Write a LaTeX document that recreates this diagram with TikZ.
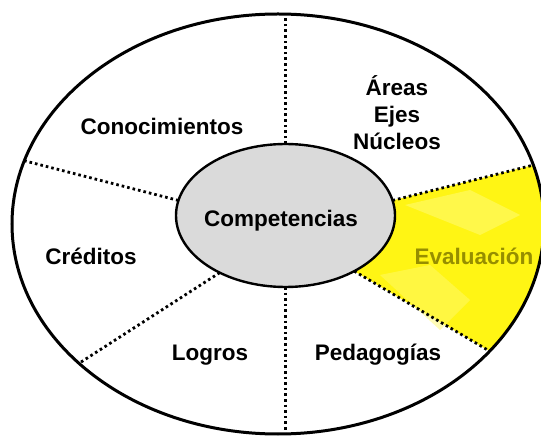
\documentclass[tikz,border=0pt]{standalone}
\usepackage{fontspec}
\setmainfont{Liberation Sans}
\usetikzlibrary{shapes.geometric,calc,backgrounds}
\definecolor{coregray}{RGB}{218,218,218}
\definecolor{hl}{RGB}{255,245,20}
\definecolor{hlsoft}{RGB}{255,250,110}
\definecolor{evaltext}{RGB}{150,142,0}
\begin{document}
\begin{tikzpicture}[x=1pt,y=-1pt,
  lbl/.style={font=\fontsize{22.5}{26}\selectfont\bfseries, anchor=base, inner sep=0pt},
  divider/.style={line width=2.8pt, dash pattern=on 2.6pt off 3.0pt},
  ring/.style={ellipse, draw, line width=3pt, inner sep=0pt, outer sep=0pt},
  core/.style={ellipse, draw, line width=2.4pt, fill=coregray, inner sep=0pt, outer sep=0pt}]
\useasboundingbox (0,0) rectangle (541,438);
\node[ring, minimum width=532pt, minimum height=420pt] (outer) at (278,224) {};
\node[core, minimum width=219pt, minimum height=143pt] (comp) at (285.5,215.5) {};
\begin{scope}[on background layer]
  \begin{scope}
    \clip (outer.center) ellipse [x radius=266pt, y radius=210pt];
    \fill[hl] (comp.8.2) -- ($(comp.8.2)!2.5!(outer.13)$) -- ($(comp.321.6)!2.5!(outer.329.3)$) -- (comp.321.6) -- cycle;
    \fill[hlsoft, opacity=0.6] (405,205) -- (470,190) -- (520,215) -- (480,235) -- cycle;
    \fill[hlsoft, opacity=0.5] (380,275) -- (430,265) -- (470,300) -- (440,330) -- cycle;
  \end{scope}
  \draw[divider] (comp.north) -- (comp.north |- outer.north);
  \draw[divider] (comp.south) -- (comp.south |- outer.south);
  \draw[divider] (comp.172) -- (outer.166.4);
  \draw[divider] (comp.221.9) -- (outer.215.9);
  \draw[divider] (comp.8.2) -- (outer.13);
  \draw[divider] (comp.321.6) -- (outer.329.3);
\end{scope}
\node[lbl] (comptext) at (281,227) {Competencias};
\node[lbl] (cono) at (162,135) {Conocimientos};
\node[lbl] (areas) at (397,96) {Áreas};
\node[lbl] (ejes) at (397,123) {Ejes};
\node[lbl] (nucleos) at (397,150) {Núcleos};
\node[lbl] (cred) at (91,265) {Créditos};
\node[lbl, text=evaltext] (eval) at (474,265) {Evaluación};
\node[lbl] (logros) at (210,360) {Logros};
\node[lbl] (peda) at (378,360) {Pedagogías};
\end{tikzpicture}
\end{document}
